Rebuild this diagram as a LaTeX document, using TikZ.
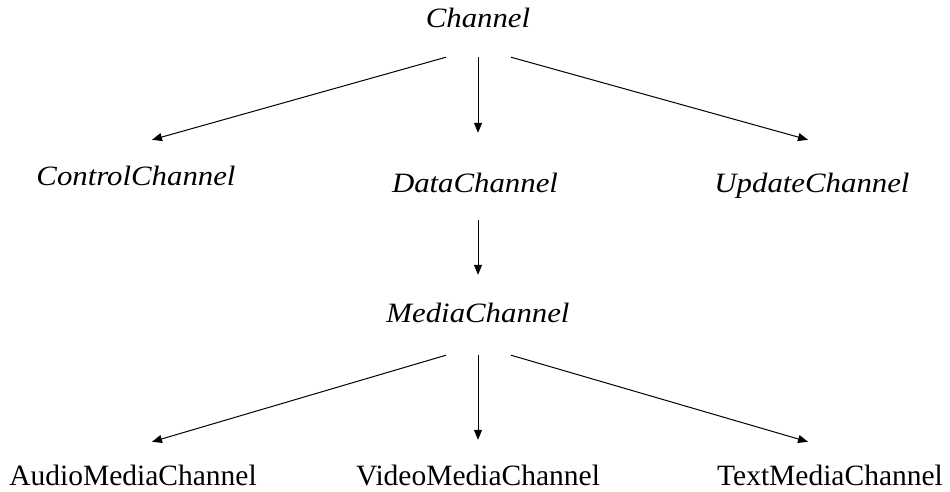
\documentclass[tikz,border=0pt]{standalone}
\usepackage{fontspec}
\setmainfont{Liberation Serif}
\newfontfamily\widit[FakeStretch=1.1]{Liberation Serif Italic}
\usetikzlibrary{arrows.meta}
\tikzset{
    cls/.style={inner sep=0pt, anchor=base, text height=17pt, text depth=5pt,
        font=\fontsize{29.5}{34}\selectfont},
    abscls/.style={cls, font=\widit\fontsize{28}{32}\selectfont},
    inh/.style={-{Triangle[length=10pt,width=8pt]}, line width=1pt},
}

\begin{document}
\begin{tikzpicture}[x=1pt, y=-1pt]
        \useasboundingbox (0,0) rectangle (950,491);
        \node[abscls](ch) at (478, 27) {Channel};
        \node[abscls](ctl) at (136, 185) {ControlChannel};
        \node[abscls](dat) at (475, 192) {DataChannel};
        \node[abscls](upd) at (812, 192) {UpdateChannel};
        \node[abscls](med) at (478, 322) {MediaChannel};
        \node[cls](aud) at (133, 485) {AudioMediaChannel};
        \node[cls](vid) at (478, 485) {VideoMediaChannel};
        \node[cls](txt) at (830, 485) {TextMediaChannel};
        \draw[inh] ([xshift=-32pt, yshift=-25pt]ch.south) -- ([xshift=16pt, yshift=28pt]ctl.north);
        \draw[inh] ([yshift=-25pt]ch.south) -- ([xshift=3pt, yshift=42pt]dat.north);
        \draw[inh] ([xshift=33pt, yshift=-25pt]ch.south) -- ([xshift=-4pt, yshift=35pt]upd.north);
        \draw[inh] ([xshift=3pt, yshift=-23pt]dat.south) -- ([yshift=30pt]med.north);
        \draw[inh] ([xshift=-32pt, yshift=-28pt]med.south) -- ([xshift=19pt, yshift=26pt]aud.north);
        \draw[inh] ([yshift=-28pt]med.south) -- ([yshift=28pt]vid.north);
        \draw[inh] ([xshift=33pt, yshift=-28pt]med.south) -- ([xshift=-22pt, yshift=26pt]txt.north);
\end{tikzpicture}
\end{document}
